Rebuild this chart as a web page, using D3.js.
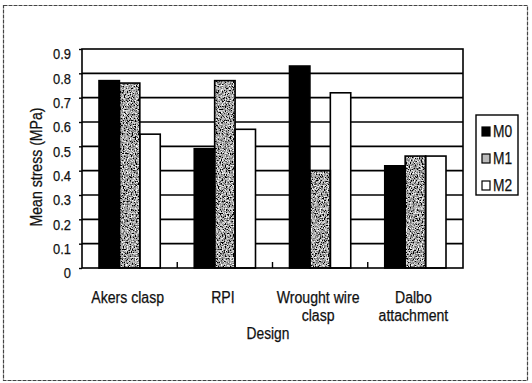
<!DOCTYPE html>
<html>
<head>
<meta charset="utf-8">
<script src="https://cdn.jsdelivr.net/npm/d3@7"></script>
<style>
  html, body { margin: 0; padding: 0; background: #fff; }
  svg text { font-family: 'Liberation Sans', Arial, Helvetica, sans-serif; fill: #111; stroke: #111; stroke-width: 0.25; }
</style>
</head>
<body>
<svg id="chart" width="532" height="383"></svg>
<script>
// Mean stress by clasp design, for three models
const categories = ["Akers clasp", "RPI", "Wrought wire clasp", "Dalbo attachment"];
const categoryLines = [["Akers clasp"], ["RPI"], ["Wrought wire", "clasp"], ["Dalbo", "attachment"]];
const series = ["M0", "M1", "M2"];
const M0 = [0.77, 0.49, 0.83, 0.42];
const M1 = [0.76, 0.77, 0.40, 0.46];
const M2 = [0.55, 0.57, 0.72, 0.46];
const yTicks = [0, 0.1, 0.2, 0.3, 0.4, 0.5, 0.6, 0.7, 0.8, 0.9];
const yTickLabels = ["0", "0.1", "0.2", "0.3", "0.4", "0.5", "0.6", "0.7", "0.8", "0.9"];
const yTitle = "Mean stress (MPa)";
const xTitle = "Design";

const values = { M0, M1, M2 };
const rows = categories.map((c, i) => ({ category: c, lines: categoryLines[i], vals: series.map(s => ({ key: s, value: values[s][i] })) }));

const svg = d3.select("#chart");
const plot = { left: 82, right: 463, top: 49, bottom: 268 };

// squeeze text horizontally to a narrow face
function narrow(sel, k) {
  sel.each(function () {
    const w = this.getComputedTextLength();
    d3.select(this).attr("textLength", w * k).attr("lengthAdjust", "spacingAndGlyphs");
  });
}

// noisy grey fill for the M1 bars
const defs = svg.append("defs");
const grain = defs.append("filter").attr("id", "grain").attr("x", 0).attr("y", 0).attr("width", 1).attr("height", 1);
grain.append("feTurbulence").attr("type", "fractalNoise").attr("baseFrequency", 0.75).attr("numOctaves", 2).attr("seed", 3).attr("result", "n");
grain.append("feColorMatrix").attr("in", "n").attr("type", "matrix")
  .attr("values", "2.4 0 0 0 -0.82  2.4 0 0 0 -0.82  2.4 0 0 0 -0.82  0 0 0 0 1").attr("result", "g");
grain.append("feComposite").attr("in", "g").attr("in2", "SourceGraphic").attr("operator", "in");

const fills = { M0: "#000", M1: "#666", M2: "#fff" };

// outer frame
svg.append("rect").attr("x", 3.5).attr("y", 5.5).attr("width", 524).attr("height", 375)
  .attr("fill", "none").attr("stroke", "#444").attr("stroke-width", 1.2).attr("stroke-dasharray", "4 1");

const y = d3.scaleLinear().domain([0, 0.9]).range([plot.bottom, plot.top]);
const x0 = d3.scaleBand().domain(categories).range([plot.left, plot.right]).padding(0);
const pad = 17;
const x1 = d3.scaleBand().domain(series).range([pad, x0.bandwidth() - pad]).padding(0);

// horizontal gridlines
svg.append("g").selectAll("line").data(yTicks.filter(t => t > 0 && t < 0.9)).join("line")
  .attr("x1", plot.left).attr("x2", plot.right)
  .attr("y1", d => y(d)).attr("y2", d => y(d))
  .attr("stroke", "#000").attr("stroke-width", 1.6);

// bars
const groups = svg.append("g").selectAll("g").data(rows).join("g")
  .attr("transform", d => `translate(${x0(d.category)},0)`);

groups.selectAll("rect.fill").data(d => d.vals).join("rect").attr("class", "fill")
  .attr("x", d => x1(d.key)).attr("width", x1.bandwidth())
  .attr("y", d => y(d.value)).attr("height", d => y(0) - y(d.value))
  .attr("fill", d => fills[d.key])
  .attr("filter", d => d.key === "M1" ? "url(#grain)" : null);

groups.selectAll("rect.edge").data(d => d.vals).join("rect").attr("class", "edge")
  .attr("x", d => x1(d.key)).attr("width", x1.bandwidth())
  .attr("y", d => y(d.value)).attr("height", d => y(0) - y(d.value))
  .attr("fill", "none").attr("stroke", "#000").attr("stroke-width", 1.6);

// plot border
svg.append("rect").attr("x", plot.left).attr("y", plot.top)
  .attr("width", plot.right - plot.left).attr("height", plot.bottom - plot.top)
  .attr("fill", "none").attr("stroke", "#000").attr("stroke-width", 1.6);

// y axis
const yAxis = d3.axisLeft(y).tickValues(yTicks).tickFormat((d, i) => yTickLabels[i]).tickSize(3).tickPadding(8);
const ya = svg.append("g").attr("transform", `translate(${plot.left},0)`).call(yAxis);
ya.select(".domain").remove();
ya.selectAll(".tick line").attr("stroke", "#000").attr("stroke-width", 1.4);
ya.selectAll(".tick text").attr("font-size", 15).attr("y", 5)
  .style("font-family", "'Liberation Sans', Arial, sans-serif").attr("fill", "#111")
  .call(narrow, 0.86);

// x ticks between categories, pointing inward
svg.append("g").selectAll("line").data(categories.slice(1)).join("line")
  .attr("x1", d => x0(d)).attr("x2", d => x0(d))
  .attr("y1", plot.bottom).attr("y2", plot.bottom - 6)
  .attr("stroke", "#000").attr("stroke-width", 1.4);

// category labels
const cl = svg.append("g").selectAll("text").data(rows).join("text")
  .attr("text-anchor", "middle").attr("font-size", 16)
  .attr("transform", d => `translate(${x0(d.category) + x0.bandwidth() / 2 - 2},303)`);
cl.selectAll("tspan").data(d => d.lines).join("tspan")
  .attr("x", 0).attr("y", (d, i) => i * 18).text(d => d)
  .call(narrow, 0.88);

// axis titles
svg.append("text").attr("x", 268).attr("y", 339).attr("text-anchor", "middle").attr("font-size", 16).text(xTitle).call(narrow, 0.86);
svg.append("text").attr("transform", "translate(42,167) rotate(-90)").attr("text-anchor", "middle").attr("font-size", 16).text(yTitle).call(narrow, 0.88);

// legend
const lg = svg.append("g");
lg.append("rect").attr("x", 476).attr("y", 115).attr("width", 42).attr("height", 80)
  .attr("fill", "#fff").attr("stroke", "#000").attr("stroke-width", 1.4);
const items = lg.selectAll("g").data(series).join("g")
  .attr("transform", (d, i) => `translate(482,${131 + i * 27})`);
items.append("rect").attr("x", 0).attr("y", -4).attr("width", 8).attr("height", 9)
  .attr("fill", d => d === "M1" ? "#bbb" : fills[d]).attr("stroke", "#000").attr("stroke-width", 1.2);
items.append("text").attr("x", 11).attr("y", 6).attr("font-size", 16).text(d => d).call(narrow, 0.86);
</script>
</body>
</html>
